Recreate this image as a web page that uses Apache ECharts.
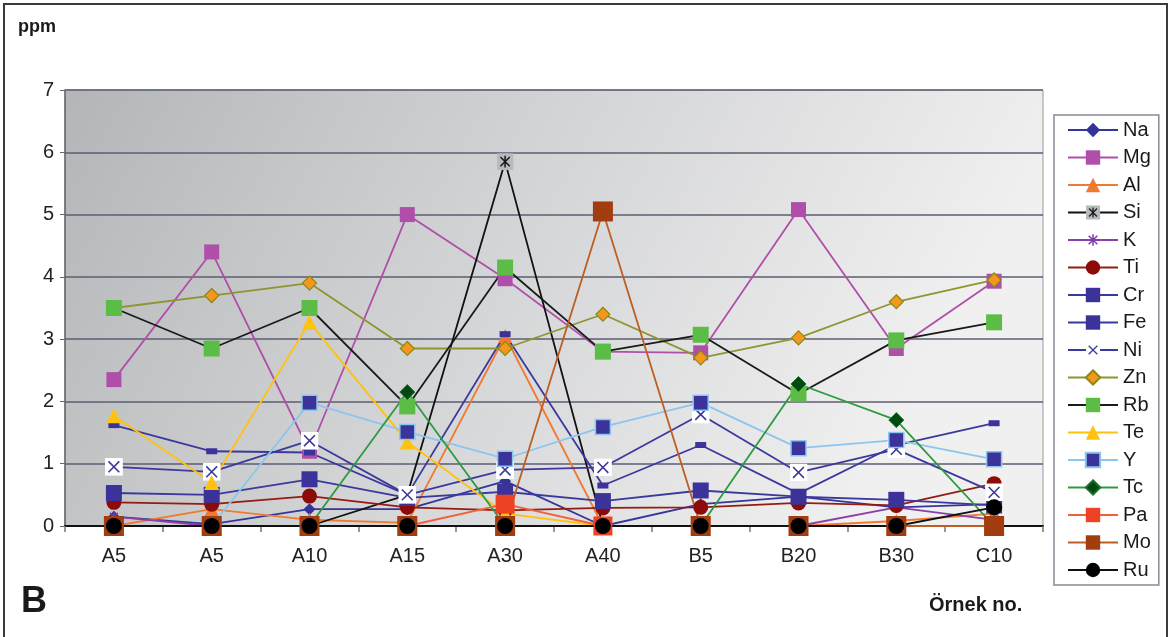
<!DOCTYPE html>
<html>
<head>
<meta charset="utf-8">
<script src="https://cdn.jsdelivr.net/npm/echarts@6/dist/echarts.min.js"></script>
<style>
  html, body { margin: 0; padding: 0; background: #fff; }
  #chart { width: 1172px; height: 637px; }
</style>
</head>
<body>
<div id="chart"></div>
<script>
// sample names on the x axis
const samples = ["A5", "A5", "A10", "A15", "A30", "A40", "B5", "B20", "B30", "C10"];

// ppm values per element
const na = [0.15, 0.03, 0.27, 0.27, 0.72, 0, 0.35, 0.47, 0.3, 0.35];
const mg = [2.35, 4.4, 1.2, 5.0, 3.97, 2.8, 2.78, 5.08, 2.85, 3.93];
const al = [0, 0.27, 0.1, 0.05, 3.05, 0, 0, 0, 0.08, 0.2];
const si = [0, 0, 0, 0.5, 5.85, 0, 0, 0, 0, 0];
const k = [0.15, 0, 0, 0, 0, 0, 0, 0, 0.3, 0.1];
const ti = [0.38, 0.35, 0.48, 0.3, 0.25, 0.29, 0.3, 0.37, 0.33, 0.68];
const cr = [0.53, 0.5, 0.75, 0.45, 0.55, 0.4, 0.57, 0.47, 0.42, 0.33];
const fe = [1.62, 1.2, 1.18, 0.5, 3.08, 0.65, 1.3, 0.52, 1.3, 1.65];
const ni = [0.95, 0.87, 1.37, 0.5, 0.9, 0.94, 1.79, 0.86, 1.23, 0.54];
const zn = [3.5, 3.7, 3.9, 2.85, 2.85, 3.4, 2.7, 3.02, 3.6, 3.95];
const rb = [3.5, 2.85, 3.5, 1.92, 4.15, 2.8, 3.07, 2.12, 2.98, 3.27];
const te = [1.77, 0.7, 3.27, 1.35, 0.2, 0, 0, 0, 0, 0];
const yy = [0, 0, 1.98, 1.51, 1.08, 1.59, 1.98, 1.25, 1.38, 1.07];
const tc = [0, 0, 0, 2.15, 0, 0, 0, 2.28, 1.7, 0];
const pa = [0, 0, 0, 0, 0.35, 0, 0, 0, 0, 0];
const mo = [0, 0, 0, 0, 0, 5.05, 0, 0, 0, 0];
const ru = [0, 0, 0, 0, 0, 0, 0, 0, 0, 0.3];

const yTicks = [0, 1, 2, 3, 4, 5, 6, 7];

function svgSymbol(svg) {
  return "image://data:image/svg+xml;charset=utf-8," + encodeURIComponent(svg);
}
const siSym = svgSymbol("<svg xmlns='http://www.w3.org/2000/svg' width='20' height='20' viewBox='0 0 20 20'><rect x='0' y='0' width='20' height='20' fill='#b8bbbe'/><path d='M4.5 4.5L15.5 15.5M15.5 4.5L4.5 15.5M10 3V17' stroke='#1a1a1a' stroke-width='1.8' fill='none'/></svg>");
const kSym = svgSymbol("<svg xmlns='http://www.w3.org/2000/svg' width='20' height='20' viewBox='0 0 20 20'><path d='M4 4L16 16M16 4L4 16M10 2V18' stroke='#7b3aa6' stroke-width='2' fill='none'/></svg>");
const niSym = svgSymbol("<svg xmlns='http://www.w3.org/2000/svg' width='20' height='20' viewBox='0 0 20 20'><rect x='0' y='0' width='20' height='20' fill='#ffffff'/><path d='M4 4L16 16M16 4L4 16' stroke='#3b3a9c' stroke-width='1.8' fill='none'/></svg>");

const font = "Liberation Sans, Arial, sans-serif";

function line(name, data, lineColor, symbol, size, fill, border, borderW) {
  return {
    name: name,
    type: "line",
    data: data,
    symbol: symbol,
    symbolSize: size,
    showAllSymbol: true,
    lineStyle: { color: lineColor, width: 1.8 },
    itemStyle: { color: fill, borderColor: border || fill, borderWidth: borderW || 0 },
    emphasis: { disabled: true },
    animation: false
  };
}

const chart = echarts.init(document.getElementById("chart"));

chart.setOption({
  animation: false,
  textStyle: { fontFamily: font },
  grid: {
    left: 65, right: 129, top: 90, bottom: 111,
    show: true,
    borderColor: "#9a9a9a",
    borderWidth: 1,
    backgroundColor: new echarts.graphic.LinearGradient(0, 0, 0.8, 1, [
      { offset: 0, color: "#b3b6b8" },
      { offset: 0.5, color: "#d3d4d6" },
      { offset: 1, color: "#f0f0f0" }
    ])
  },
  legend: {
    orient: "vertical",
    left: 1054,
    top: 115,
    width: 109,
    padding: [5, 8, 5, 13],
    itemWidth: 50,
    itemHeight: 18,
    itemGap: 7.5,
    backgroundColor: "#fff",
    borderColor: "#8a8a98",
    borderWidth: 1.5,
    borderRadius: 0,
    selectedMode: false,
    textStyle: { fontSize: 20, color: "#1a1a1a", lineHeight: 20, fontFamily: font }
  },
  xAxis: {
    type: "category",
    data: samples,
    boundaryGap: true,
    axisLine: { lineStyle: { color: "#111", width: 2 } },
    axisTick: { show: true, length: 6, lineStyle: { color: "#777", width: 1.5 } },
    axisLabel: { fontSize: 20, color: "#222", margin: 20, fontFamily: font },
    splitLine: { show: false }
  },
  yAxis: {
    type: "value",
    min: yTicks[0],
    max: yTicks[yTicks.length - 1],
    interval: 1,
    axisLine: { show: true, lineStyle: { color: "#666", width: 1.5 } },
    axisTick: { show: true, length: 5, lineStyle: { color: "#666" } },
    axisLabel: { fontSize: 20, color: "#222", margin: 11, fontFamily: font },
    splitLine: { lineStyle: { color: "#5d5d70", width: 1.5 } }
  },
  graphic: [
    {
      type: "rect",
      shape: { x: 4, y: 4, width: 1163, height: 645 },
      style: { fill: "none", stroke: "#3a3a3a", lineWidth: 2 },
      silent: true
    },
    {
      type: "text", left: 18, top: 18,
      style: { text: "ppm", font: "bold 18px " + font, fill: "#1a1a1a" }
    },
    {
      type: "text", left: 21, top: 584,
      style: { text: "B", font: "bold 36px " + font, fill: "#1a1a1a" }
    },
    {
      type: "text", left: 929, top: 595,
      style: { text: "Örnek no.", font: "bold 20px " + font, fill: "#1a1a1a" }
    }
  ],
  series: [
    line("Na", na, "#35359a", "diamond", 12, "#33339a"),
    line("Mg", mg, "#b04fa9", "rect", 15, "#b04fa9"),
    line("Al", al, "#f07a30", "triangle", 14, "#f07a30"),
    line("Si", si, "#111", siSym, 17, "#111"),
    line("K", k, "#8a3fa8", kSym, 13, "#8a3fa8"),
    line("Ti", ti, "#951c12", "circle", 15, "#8c0a08"),
    line("Cr", cr, "#3b3a9c", "rect", 16, "#3b3399"),
    line("Fe", fe, "#3b3a9c", "rect", [11, 6], "#3b3399"),
    line("Ni", ni, "#3b3a9c", niSym, 18, "#3b3a9c"),
    line("Zn", zn, "#8f9430", "diamond", 14, "#f5961e", "#8a8a10", 1.2),
    line("Rb", rb, "#1a1a1a", "rect", 16, "#5cbd46"),
    line("Te", te, "#ffc20e", "triangle", 15, "#ffc20e"),
    line("Y", yy, "#8cc6ee", "rect", 15, "#3b3399", "#8cc6ee", 1.5),
    line("Tc", tc, "#2e9a40", "diamond", 15, "#004a12", "#1e6e2a", 1),
    line("Pa", pa, "#f2603a", "rect", 19, "#ee4224"),
    line("Mo", mo, "#bd5e22", "rect", 20, "#a13d0e"),
    line("Ru", ru, "#111", "circle", 16, "#000")
  ]
});
</script>
</body>
</html>
